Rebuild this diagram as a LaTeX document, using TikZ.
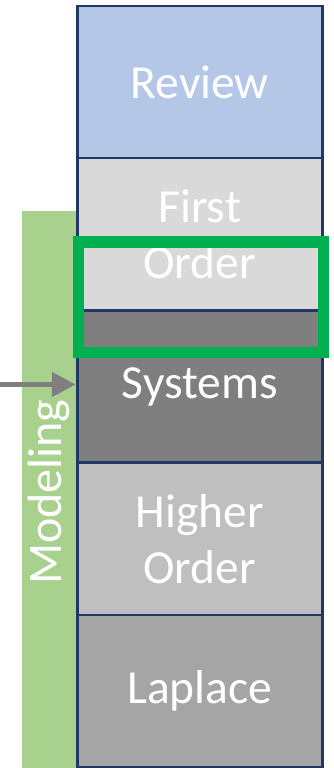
\documentclass[tikz,border=0pt]{standalone}
\usepackage{fontspec}
\setmainfont{Carlito}
\usetikzlibrary{arrows.meta}
\usetikzlibrary{positioning}

\definecolor{navyline}{HTML}{1F3864}
\definecolor{reviewblue}{HTML}{B4C7E7}
\definecolor{firstgray}{HTML}{D9D9D9}
\definecolor{systemsgray}{HTML}{7F7F7F}
\definecolor{highergray}{HTML}{BFBFBF}
\definecolor{laplacegray}{HTML}{A5A5A5}
\definecolor{modelgreen}{HTML}{A9D18E}
\definecolor{framegreen}{HTML}{00B050}

\tikzset{
  topic/.style={
    draw=navyline, line width=2.5pt, outer sep=0pt, inner sep=0pt,
    minimum width=245pt, minimum height=152.2pt,
    text=white, align=center, font=\fontsize{47.5}{56}\selectfont},
  sidelabel/.style={text=white, font=\fontsize{48}{56}\selectfont}
}

\begin{document}
\begin{tikzpicture}[x=1pt,y=-1pt]
\useasboundingbox (0,0) rectangle (333,768);

\pgfmathsetmacro\colx{199.75}
\pgfmathsetmacro\rowh{152.2}

% modeling bar sits behind the stack
\fill[modelgreen] (22,211) rectangle (78,768);
\node[sidelabel,rotate=90] (modeling) at (49,492) {Modeling};

% the stack of topics, top to bottom
\foreach \nm/\col/\txt [count=\i from 0] in {
    review/reviewblue/Review,
    first/firstgray/{First\\Order},
    systems/systemsgray/Systems,
    higher/highergray/{Higher\\Order},
    laplace/laplacegray/Laplace} {
  \node[topic,fill=\col] (\nm) at (\colx,{6 + \i*\rowh + \rowh/2}) {\txt};
}

% highlight across first order / systems
\draw[framegreen,line width=11.5pt] (78.5,242) rectangle (323.5,352.5);

\coordinate (feed) at (0,384.5);
\draw[systemsgray,line width=5pt,shorten >=1.5pt,
  -{Triangle[length=24pt,width=24pt]}] (feed) -- (feed -| systems.west);
\end{tikzpicture}
\end{document}
